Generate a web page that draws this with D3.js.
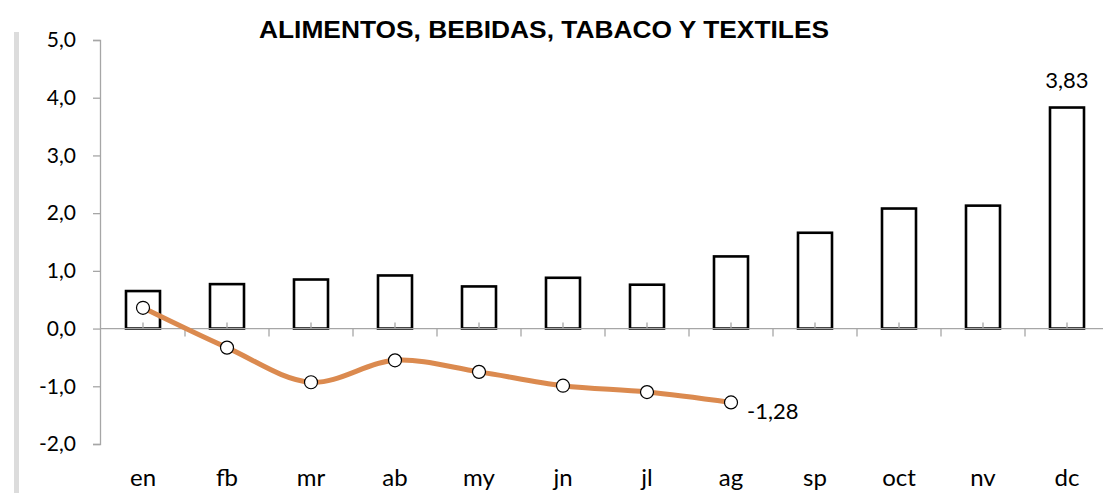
<!DOCTYPE html>
<html>
<head>
<meta charset="utf-8">
<script src="https://cdn.jsdelivr.net/npm/d3@7"></script>
<style>
  body { margin: 0; background: #fff; }
  svg { display: block; }
</style>
</head>
<body>
<div id="chart"></div>
<script>
const width = 1103
const height = 493

const months = ["en", "fb", "mr", "ab", "my", "jn", "jl", "ag", "sp", "oct", "nv", "dc"]
const barValues = [0.65, 0.77, 0.85, 0.92, 0.73, 0.88, 0.76, 1.25, 1.66, 2.08, 2.13, 3.83]
const lineValues = [0.36, -0.33, -0.93, -0.55, -0.75, -0.99, -1.10, -1.28]
const yTicks = [5, 4, 3, 2, 1, 0, -1, -2]
const title = "ALIMENTOS, BEBIDAS, TABACO Y TEXTILES"

const font = "Lato, 'Open Sans', sans-serif"
const fmt = v => d3.format(".1f")(v).replace(".", ",").replace("−", "-")
const fmt2 = v => d3.format(".2f")(v).replace(".", ",").replace("−", "-")

const svg = d3.select("div#chart").append("svg").attr("width", width).attr("height", height)

// left grey strip
svg.append("rect").attr("x", 14).attr("y", 32).attr("width", 5).attr("height", height - 32).attr("fill", "#dcdcdc")

const x = d3.scaleBand().domain(months).range([101, 1109])
const y = d3.scaleLinear().domain([-2, 5]).range([444, 40])

// y axis
const yAxis = d3.axisLeft(y).tickValues(yTicks).tickFormat(fmt).tickSize(7).tickPadding(17)
const yAxisGroup = svg.append("g").attr("transform", "translate(100,0)").call(yAxis)
yAxisGroup.select(".domain").attr("stroke", "#a6a6a6").attr("stroke-width", 1.3)
yAxisGroup.selectAll(".tick line").attr("stroke", "#a6a6a6").attr("stroke-width", 1.3)
yAxisGroup.selectAll(".tick text").attr("font-family", font).attr("font-size", 21).attr("fill", "#000")

// bars
svg.append("g").selectAll("rect")
  .data(barValues)
  .enter().append("rect")
  .attr("x", (d, i) => x(months[i]) + x.bandwidth() / 2 - 17)
  .attr("y", d => y(d))
  .attr("width", 34)
  .attr("height", d => y(0) - y(d))
  .attr("fill", "#fff")
  .attr("stroke", "#000")
  .attr("stroke-width", 2.6)

// x axis on zero
const xAxisGroup = svg.append("g").attr("transform", `translate(0,${y(0)})`)
xAxisGroup.append("line").attr("x1", 100).attr("x2", 1109).attr("stroke", "#a6a6a6").attr("stroke-width", 1.3)
// boundary ticks (down)
xAxisGroup.selectAll("line.b")
  .data(months.slice(1))
  .enter().append("line").attr("class", "b")
  .attr("x1", d => x(d)).attr("x2", d => x(d))
  .attr("y1", 0).attr("y2", 8)
  .attr("stroke", "#a6a6a6").attr("stroke-width", 1.3)
// center ticks (up)
xAxisGroup.selectAll("line.c")
  .data(months)
  .enter().append("line").attr("class", "c")
  .attr("x1", d => x(d) + x.bandwidth() / 2).attr("x2", d => x(d) + x.bandwidth() / 2)
  .attr("y1", -6).attr("y2", 0)
  .attr("stroke", "#a6a6a6").attr("stroke-width", 1.3)

// month labels
svg.append("g").selectAll("text")
  .data(months)
  .enter().append("text")
  .attr("x", d => x(d) + x.bandwidth() / 2)
  .attr("y", 486)
  .attr("text-anchor", "middle")
  .attr("font-family", font).attr("font-size", 24)
  .text(d => d)

// line
const cx = i => x(months[i]) + x.bandwidth() / 2
const line = d3.line()
  .x((d, i) => cx(i))
  .y(d => y(d))
  .curve(d3.curveCatmullRom.alpha(0.5))

svg.append("path")
  .datum(lineValues)
  .attr("d", line)
  .attr("fill", "none")
  .attr("stroke", "#db8a4f")
  .attr("stroke-width", 5)
  .attr("stroke-linecap", "round")

svg.append("g").selectAll("circle")
  .data(lineValues)
  .enter().append("circle")
  .attr("cx", (d, i) => cx(i))
  .attr("cy", d => y(d))
  .attr("r", 6.5)
  .attr("fill", "#fff")
  .attr("stroke", "#000")
  .attr("stroke-width", 1.2)

// value labels
const lastBar = barValues.length - 1
svg.append("text")
  .attr("x", cx(lastBar))
  .attr("y", 88)
  .attr("text-anchor", "middle")
  .attr("font-family", font).attr("font-size", 22)
  .text(fmt2(barValues[lastBar]))

const lastLine = lineValues.length - 1
svg.append("text")
  .attr("x", cx(lastLine) + 16)
  .attr("y", y(lineValues[lastLine]) + 17)
  .attr("font-family", font).attr("font-size", 22)
  .text(fmt2(lineValues[lastLine]))

// title
svg.append("text")
  .attr("x", 259)
  .attr("y", 38)
  .attr("textLength", 570)
  .attr("lengthAdjust", "spacingAndGlyphs")
  .attr("font-family", "'Liberation Sans Narrow', 'Arial Narrow', 'Liberation Sans', sans-serif")
  .attr("font-weight", "bold")
  .attr("font-size", 24)
  .text(title)
</script>
</body>
</html>
